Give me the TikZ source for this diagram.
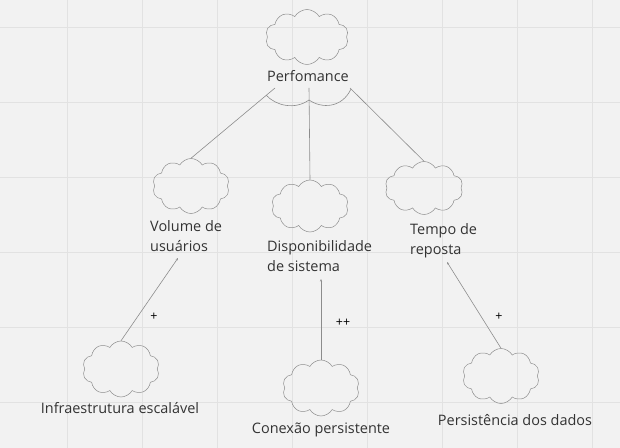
\documentclass[tikz,border=0pt]{standalone}
\usepackage{fontspec}
\setmainfont{Open Sans}
\usetikzlibrary{shapes.symbols,arrows.meta}
\definecolor{bg}{HTML}{F2F2F2}
\definecolor{gridc}{HTML}{E2E2E2}
\definecolor{edgec}{HTML}{8C8C8C}
\definecolor{txt}{HTML}{333333}
\tikzset{
  goal/.style={cloud, cloud puffs=10, cloud puff arc=120, aspect=1.4,
    draw=edgec, line width=0.5pt, inner sep=0pt,
    minimum width=77bp, minimum height=55bp},
  lbl/.style={inner sep=0pt, text=txt, font=\fontsize{14.5}{20}\selectfont},
  contrib/.style={inner sep=0pt, text=black, font=\fontsize{12.5}{14}\selectfont},
  link/.style={draw=edgec, line width=0.6pt},
  arr/.style={link, -{Stealth[length=2.5pt,width=2pt]}}
}
\begin{document}
\begin{tikzpicture}[x=1bp,y=-1bp]
\useasboundingbox (0,0) rectangle (620,448);
\fill[bg] (0,0) rectangle (620,448);
\foreach \gx in {67,142,...,592} \draw[gridc,line width=0.7pt] (\gx,0) -- (\gx,448);
\foreach \gy in {27,102,...,402} \draw[gridc,line width=0.7pt] (0,\gy) -- (620,\gy);

% top goal
\node[goal, minimum width=83bp] (perf) at (307,37) {};
\node[lbl, anchor=base] (perfT) at (308,82) {Perfomance};

% middle goals
\node[goal] (vol) at (191,186) {};
\node[lbl, anchor=base west] (volT) at (150,232) {\begin{tabular}[t]{@{}l@{}}Volume de\\usuários\end{tabular}};
\node[goal, minimum height=52bp] (disp) at (310,206) {};
\node[lbl, anchor=base west] (dispT) at (267,252) {\begin{tabular}[t]{@{}l@{}}Disponibilidade\\de sistema\end{tabular}};
\node[goal, minimum width=78bp, minimum height=53bp] (tempo) at (424,188) {};
\node[lbl, anchor=base west] (tempoT) at (410,235) {\begin{tabular}[t]{@{}l@{}}Tempo de\\reposta\end{tabular}};

% bottom goals
\node[goal, minimum height=56bp] (infra) at (121,369) {};
\node[lbl, anchor=base] (infraT) at (120,413) {Infraestrutura escalável};
\node[goal, minimum height=56bp] (conex) at (321,388) {};
\node[lbl, anchor=base] (conexT) at (321,433) {Conexão persistente};
\node[goal] (pers) at (501,376) {};
\node[lbl, anchor=base] (persT) at (515,425) {Persistência dos dados};

% AND decomposition
\coordinate (a1) at (275,88);
\coordinate (a2) at (309,88);
\coordinate (a3) at (350,88);
\draw[link] (a1) -- (vol.north);
\draw[link] (a2) -- (disp.north);
\draw[link] (a3) -- (tempo.north);
\draw[link] (266,95) .. controls (276,106) and (295,110) .. (309,100)
  .. controls (322,109) and (342,108) .. (351,89);

% contributions
\coordinate (c1) at (178,258);
\coordinate (c2) at (321,279);
\coordinate (c3) at (447,262);
\draw[arr] (infra.north) -- (c1);
\draw[arr] (conex.north) -- (c2);
\draw[arr] (pers.north) -- (c3);
\node[contrib] (p1) at (154,317) {+};
\node[contrib] (p2) at (343,323) {++};
\node[contrib] (p3) at (499,317) {+};
\end{tikzpicture}
\end{document}
